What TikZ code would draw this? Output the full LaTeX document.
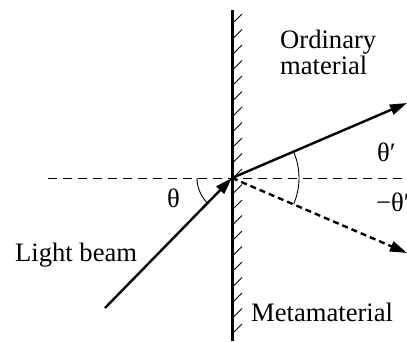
\documentclass[tikz,border=0pt]{standalone}
\usepackage{fontspec}
\setmainfont{Liberation Serif}
\usetikzlibrary{arrows.meta}
\tikzset{
  lbl/.style={inner sep=0pt, anchor=base west, font=\fontsize{26.6}{26}\selectfont},
  beam/.style={line width=2.4pt, -{Triangle[length=17pt,width=10.5pt]}},
  thin/.style={line width=0.9pt},
}
\begin{document}
\begin{tikzpicture}[x=1pt,y=-1pt]
\useasboundingbox (0,0) rectangle (407,341);
\coordinate (O) at (232,178);
\coordinate (wtop) at (232,10);
\coordinate (wbot) at (232,341);
\coordinate (hl) at (48,178);
\coordinate (hr) at (407,178);
\coordinate (src) at (105,308);
\coordinate (refr) at (407,103);
\coordinate (negr) at (407,253);
% wall and hatching
\draw[line width=3pt] (wtop) -- (wbot);
\foreach \k in {-10,...,10} {
  \draw[thin] (233,178+15.5*\k) -- ++(9,-9);
}
% dashed normal
\draw[thin, dash pattern=on 9pt off 6pt] (hl) -- (hr);
% beams
\draw[beam] (src) -- (O);
\draw[beam] (O) -- (refr);
\draw[beam, dash pattern=on 6pt off 4pt] (O) -- (negr);
% angle arcs
\draw[thin] (O) ++(180:35) arc[start angle=180, end angle=135, radius=35];
\draw[thin] (O) ++(-23:67) arc[start angle=-23, end angle=23, radius=67];
% labels
\node[lbl] (ord) at (280,48) {Ordinary};
\node[lbl] (mat) at (280,74) {material};
\node[lbl] (tp) at (377,161) {θ′};
\node[lbl] (ntp) at (376,211) {−θ′};
\node[lbl] (th) at (167,207) {θ};
\node[lbl] (lb) at (15,261) {Light beam};
\node[lbl] (meta) at (251,321) {Metamaterial};
\end{tikzpicture}
\end{document}
